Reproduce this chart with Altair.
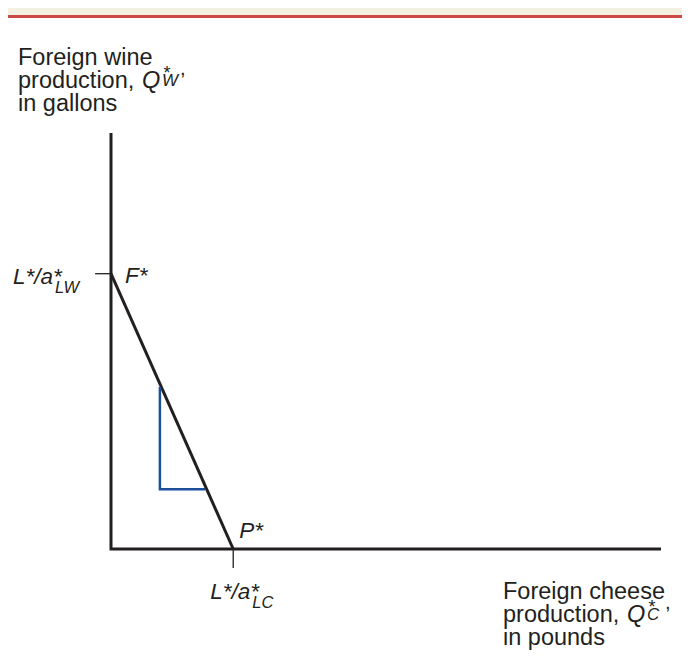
import altair as alt
import pandas as pd

# ---- data (economic units) ----
cheese_intercept = 4.0      # L*/a*_LC
wine_intercept = 9.0        # L*/a*_LW
x_axis_max = 18.0
y_axis_max = 13.6
axis_x = [0.0, 0.0, x_axis_max]
axis_y = [y_axis_max, 0.0, 0.0]
ppf_x = [0.0, cheese_intercept]
ppf_y = [wine_intercept, 0.0]
tri_x = [1.6, 1.6, 3.08]
tri_y = [5.3, 1.95, 1.95]
tick_len_x = -0.52   # extent of the tick left of the vertical axis
tick_len_y = -0.62   # extent of the tick below the horizontal axis

INK = "#231f20"
BLUE = "#1c4f9c"
FONT = "Liberation Sans"
W, H = 550, 416
OX, OY = 111, 133   # page position of plot origin (top-left of plot area)

xs = alt.Scale(domain=[0, x_axis_max], nice=False, zero=False)
ys = alt.Scale(domain=[0, y_axis_max], nice=False, zero=False)

def X(f="x"):
    return alt.X(f + ":Q", scale=xs, axis=None)

def Y(f="y"):
    return alt.Y(f + ":Q", scale=ys, axis=None)

one = pd.DataFrame({"a": [0]})

axes_df = pd.DataFrame({"x": axis_x, "y": axis_y, "o": [0, 1, 2]})
axes = alt.Chart(axes_df).mark_line(color=INK, strokeWidth=3, strokeJoin="miter", strokeCap="butt").encode(
    x=X(), y=Y(), order="o:O")

ppf_df = pd.DataFrame({"x": ppf_x, "y": ppf_y, "o": [0, 1]})
ppf = alt.Chart(ppf_df).mark_line(color=INK, strokeWidth=3).encode(x=X(), y=Y(), order="o:O")

tri_df = pd.DataFrame({"x": tri_x, "y": tri_y, "o": [0, 1, 2]})
tri = alt.Chart(tri_df).mark_line(color=BLUE, strokeWidth=2.5, strokeJoin="miter").encode(
    x=X(), y=Y(), order="o:O")

tick_w = alt.Chart(pd.DataFrame({"x": [tick_len_x], "x2": [0.0], "y": [wine_intercept]})).mark_rule(
    color=INK, strokeWidth=1.3).encode(x=X(), x2="x2:Q", y=Y())
tick_c = alt.Chart(pd.DataFrame({"x": [cheese_intercept], "y": [tick_len_y], "y2": [0.0]})).mark_rule(
    color=INK, strokeWidth=1.3).encode(x=X(), y=Y(), y2="y2:Q")


def anchored(xv, yv, s, dx, dy, size=22.5, italic=True):
    return alt.Chart(pd.DataFrame({"x": [xv], "y": [yv]})).mark_text(
        text=s, dx=dx, dy=dy, align="left", baseline="alphabetic", fontSize=size,
        fontStyle="italic" if italic else "normal", font=FONT, color=INK).encode(x=X(), y=Y())


def ptxt(s, px, py, size=23.5, italic=False):
    return alt.Chart(one).mark_text(
        text=s, align="left", baseline="alphabetic", fontSize=size,
        fontStyle="italic" if italic else "normal", font=FONT, color=INK).encode(
        x=alt.value(px - OX), y=alt.value(py - OY))


labels = [
    anchored(0, wine_intercept, "F*", 14, 9),
    anchored(cheese_intercept, 0, "P*", 6, -11),
    anchored(0, wine_intercept, "L*/a*", -98, 10),
    anchored(0, wine_intercept, "LW", -56, 19, size=16.5),
    anchored(cheese_intercept, 0, "L*/a*", -23, 50),
    anchored(cheese_intercept, 0, "LC", 19, 59, size=16.5),
]


def title_block(x0, b1, first, third, sub):
    b2 = b1 + 23
    b3 = b1 + 46
    qx = x0 + 124
    return [
        ptxt(first, x0, b1),
        ptxt("production,", x0, b2),
        ptxt("Q", qx, b2, italic=True),
        ptxt("*", qx + 21.5, b2 - 9, size=18),
        ptxt(sub, qx + 20, b2 - 2, size=17, italic=True),
        ptxt(",", qx + 38, b2 - 13, size=20),
        ptxt(third, x0, b3),
    ]

titles = title_block(18, 65, "Foreign wine", "in gallons", "W") + \
         title_block(503, 599, "Foreign cheese", "in pounds", "C")

# page decoration (cream band and red rule at the top)
band = alt.Chart(one).mark_rect(color="#f4f0e1").encode(
    x=alt.value(-103), x2=alt.value(571), y=alt.value(-125), y2=alt.value(-118))
redline = alt.Chart(one).mark_rect(color="#cc4a44").encode(
    x=alt.value(-103), x2=alt.value(571), y=alt.value(-118), y2=alt.value(-115))

chart = alt.layer(band, redline, axes, ppf, tri, tick_w, tick_c, *labels, *titles).properties(
    width=W, height=H,
    padding={"left": 103, "top": 125, "right": 21, "bottom": 106},
    autosize=alt.AutoSizeParams(type="none"),
    background="white",
).configure_view(stroke=None)

chart.save("out.html", embed_options={"renderer": "svg", "actions": False})
